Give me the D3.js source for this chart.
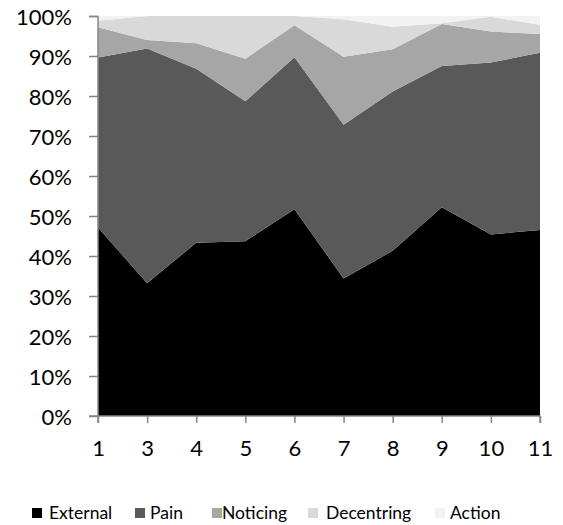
<!DOCTYPE html>
<html><head><meta charset="utf-8">
<script src="https://cdn.jsdelivr.net/npm/d3@7"></script>
<style>body{margin:0;background:#fff}svg{display:block}text{font-family:Lato,"Open Sans",sans-serif;fill:#000}</style>
</head><body><svg id="c" width="563" height="525"></svg>
<script>
const categories = ["1","3","4","5","6","7","8","9","10","11"];
const seriesNames = ["External","Pain","Noticing","Decentring","Action"];
const external   = [47.1, 33.2, 43.3, 43.7, 51.7, 34.4, 41.3, 52.2, 45.4, 46.5];
const pain       = [42.5, 58.7, 43.5, 35.0, 38.0, 38.4, 39.8, 35.3, 43.0, 44.3];
const noticing   = [7.6, 2.1, 6.4, 10.6, 8.0, 17.0, 10.6, 10.5, 7.7, 4.7];
const decentring = [1.6, 6.0, 6.8, 10.7, 2.3, 9.4, 5.6, 0.2, 3.7, 2.3];
const action     = [1.2, 0.0, 0.0, 0.0, 0.0, 0.8, 2.7, 1.8, 0.2, 2.2];
const yTicks = [0,0.1,0.2,0.3,0.4,0.5,0.6,0.7,0.8,0.9,1.0];
const colors = ["#000000","#595959","#a6a6a6","#d9d9d9","#f2f2f2"];

const rows = categories.map((c,i)=>({cat:c, External:external[i], Pain:pain[i], Noticing:noticing[i], Decentring:decentring[i], Action:action[i]}));
const stack = d3.stack().keys(seriesNames).offset(d3.stackOffsetExpand);
const layers = stack(rows);

const svg = d3.select("#c");
const x = d3.scalePoint().domain(categories).range([98,540]);
const y = d3.scaleLinear().domain([0,1]).range([416,16]);

const area = d3.area().x(d=>x(d.data.cat)).y0(d=>y(d[0])).y1(d=>y(d[1]));
svg.append("g").selectAll("path").data(layers).join("path")
  .attr("d",area).attr("fill",(d,i)=>colors[i]);

const axisColor="#868686";
const ya = svg.append("g").attr("transform","translate(98,0)")
  .call(d3.axisLeft(y).tickValues(yTicks).tickFormat(d3.format(".0%")).tickSize(9).tickPadding(17));
const xa = svg.append("g").attr("transform","translate(0,416)")
  .call(d3.axisBottom(x).tickSize(7).tickPadding(17));
[ya,xa].forEach(a=>{
  a.selectAll("path,line").attr("stroke",axisColor).attr("stroke-width",1.5);
  a.selectAll("text").style("font-size","22px").attr("fill","#000");
});
ya.selectAll("text").attr("dy","0.4em");
ya.select(".domain").attr("d","M-9,16.5H0V416H-9");
xa.select(".domain").attr("d","M98,7V0H540V7");

const legendRectX = [32,135,212,308,435];
const legendTextX = [49,150,222,326,450];
const lg = svg.append("g").selectAll("g").data(seriesNames).join("g");
lg.append("rect").attr("x",(d,i)=>legendRectX[i]).attr("y",508).attr("width",10).attr("height",10).attr("fill",(d,i)=>colors[i]);
lg.append("text").attr("x",(d,i)=>legendTextX[i]).attr("y",513).attr("dy","0.36em").style("font-size","17.5px").text(d=>d);
</script></body></html>
